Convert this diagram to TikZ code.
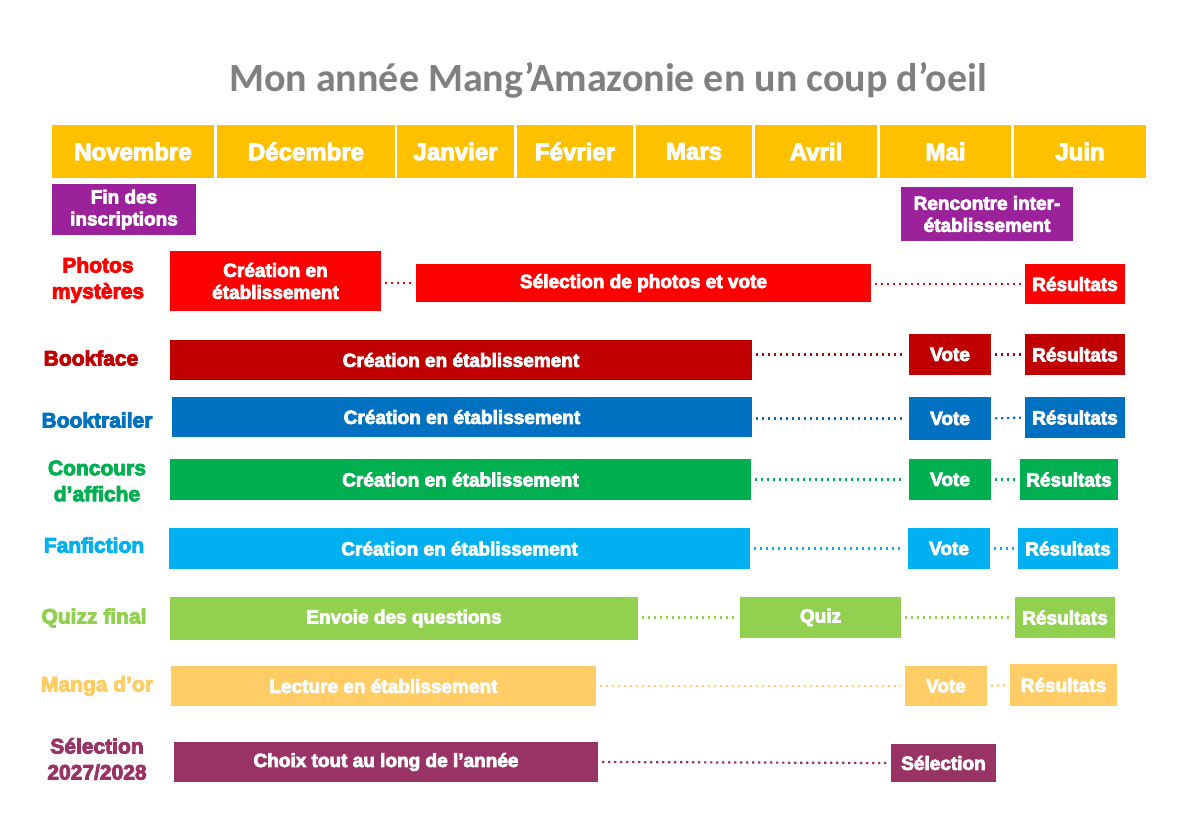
\documentclass[tikz,border=0pt]{standalone}
\usepackage{fontspec}
\setmainfont{Liberation Sans}[BoldFeatures={FakeBold=4}]
\newfontfamily\titlefont{Carlito}
\usepackage{tikz}
\definecolor{month}{HTML}{FFC000}
\definecolor{event}{RGB}{155,34,155}
\definecolor{photo}{HTML}{FF0000}
\definecolor{bookface}{HTML}{C00000}
\definecolor{trailer}{HTML}{0070C0}
\definecolor{affiche}{HTML}{00B050}
\definecolor{fanfic}{HTML}{00B0F0}
\definecolor{quizz}{HTML}{92D050}
\definecolor{mangaor}{HTML}{FFCC66}
\definecolor{selec}{HTML}{993366}

\begin{document}
\begin{tikzpicture}[x=1pt, y=-1pt,
    every node/.style={inner sep=0pt, align=center},
    head/.style={fill=month, text=white, font=\fontsize{24}{28}\selectfont\bfseries, minimum height=53pt},
    box/.style={fill=#1, text=white, font=\fontsize{19}{22}\selectfont\bfseries},
    lab/.style={text=#1, font=\fontsize{21}{26}\selectfont\bfseries},
    link/.style={draw=#1, line width=2.2pt, dash pattern=on 2.2pt off 3.8pt, shorten <=4pt, shorten >=4pt}]
    \useasboundingbox (0,0) rectangle (1192,837);
    \node (title) at (608,80) [text=black!50, font=\titlefont\fontsize{40}{46}\selectfont\bfseries] {Mon année Mang’Amazonie en un coup d’oeil};
    \node (nov) at (133,151.5) [head, minimum width=162pt] {Novembre};
    \node (dec) at (306,151.5) [head, minimum width=178pt] {Décembre};
    \node (jan) at (455.5,151.5) [head, minimum width=117pt] {Janvier};
    \node (feb) at (575,151.5) [head, minimum width=116pt] {Février};
    \node (mar) at (694,151.5) [head, minimum width=116pt] {Mars};
    \node (apr) at (816,151.5) [head, minimum width=122pt] {Avril};
    \node (may) at (945.5,151.5) [head, minimum width=131pt] {Mai};
    \node (jun) at (1080,151.5) [head, minimum width=132pt] {Juin};
    \node (fin) at (124,209.5) [box=event, minimum width=144pt, minimum height=51pt] {Fin des\\inscriptions};
    \node (meet) at (987,214) [box=event, minimum width=172pt, minimum height=54pt] {Rencontre inter-\\établissement};
    \node (pmlab) at (98,280) [lab=photo] {Photos\\mystères};
    \node (pm1) at (275.5,281) [box=photo, minimum width=211pt, minimum height=60pt] {Création en\\établissement};
    \node (pm2) at (643.5,283) [box=photo, minimum width=455pt, minimum height=38pt] {Sélection de photos et vote};
    \node (pm3) at (1075,284) [box=photo, minimum width=100pt, minimum height=40pt] {Résultats};
    \node (bflab) at (91,358) [lab=bookface] {Bookface};
    \node (bf1) at (461,360) [box=bookface, minimum width=582pt, minimum height=40pt] {Création en établissement};
    \node (bf2) at (950,354.5) [box=bookface, minimum width=82pt, minimum height=41pt] {Vote};
    \node (bf3) at (1075,354.5) [box=bookface, minimum width=100pt, minimum height=41pt] {Résultats};
    \node (btlab) at (97,420) [lab=trailer] {Booktrailer};
    \node (bt1) at (462,417) [box=trailer, minimum width=580pt, minimum height=40pt] {Création en établissement};
    \node (bt2) at (950,418.5) [box=trailer, minimum width=82pt, minimum height=43pt] {Vote};
    \node (bt3) at (1075,417.5) [box=trailer, minimum width=100pt, minimum height=41pt] {Résultats};
    \node (calab) at (97,481) [lab=affiche] {Concours\\d’affiche};
    \node (ca1) at (460.5,479.5) [box=affiche, minimum width=581pt, minimum height=41pt] {Création en établissement};
    \node (ca2) at (950,479.5) [box=affiche, minimum width=82pt, minimum height=41pt] {Vote};
    \node (ca3) at (1069,479.5) [box=affiche, minimum width=98pt, minimum height=41pt] {Résultats};
    \node (fflab) at (94,545) [lab=fanfic] {Fanfiction};
    \node (ff1) at (459.5,548.5) [box=fanfic, minimum width=581pt, minimum height=41pt] {Création en établissement};
    \node (ff2) at (949,548.5) [box=fanfic, minimum width=82pt, minimum height=41pt] {Vote};
    \node (ff3) at (1068,548.5) [box=fanfic, minimum width=100pt, minimum height=41pt] {Résultats};
    \node (qflab) at (94,618) [lab=quizz] {Quizz final};
    \node (qf1) at (404,618.5) [box=quizz, minimum width=468pt, minimum height=43pt] {Envoie des questions};
    \node (qf2) at (820.5,617.5) [box=quizz, minimum width=161pt, minimum height=41pt] {Quiz};
    \node (qf3) at (1065,617.5) [box=quizz, minimum width=100pt, minimum height=41pt] {Résultats};
    \node (molab) at (97,686) [lab=mangaor] {Manga d’or};
    \node (mo1) at (383.5,686) [box=mangaor, minimum width=425pt, minimum height=40pt] {Lecture en établissement};
    \node (mo2) at (946,686) [box=mangaor, minimum width=82pt, minimum height=40pt] {Vote};
    \node (mo3) at (1063.5,685) [box=mangaor, minimum width=107pt, minimum height=42pt] {Résultats};
    \node (selab) at (97,759) [lab=selec] {Sélection\\2027/2028};
    \node (se1) at (386,762) [box=selec, minimum width=424pt, minimum height=40pt] {Choix tout au long de l’année};
    \node (se2) at (943.5,763) [box=selec, minimum width=105pt, minimum height=38pt] {Sélection};
    \path
    (pm2.west -| pm1.east) edge[link=photo] (pm2.west)
    (pm3.west -| pm2.east) edge[link=photo] (pm3.west)
    (bf2.west -| bf1.east) edge[link=bookface] (bf2.west)
    (bf2.east) edge[link=bookface] (bf3.west)
    (bt2.west -| bt1.east) edge[link=trailer] (bt2.west)
    (bt2.east) edge[link=trailer] (bt3.west)
    (ca1.east) edge[link=affiche] (ca2.west)
    (ca2.east) edge[link=affiche] (ca3.west)
    (ff1.east) edge[link=fanfic] (ff2.west)
    (ff2.east) edge[link=fanfic] (ff3.west)
    (qf2.west -| qf1.east) edge[link=quizz] (qf2.west)
    (qf2.east) edge[link=quizz] (qf3.west)
    (mo1.east) edge[link=mangaor] (mo2.west)
    (mo2.east) edge[link=mangaor] (mo3.west)
    (se1.east) edge[link=selec] (se2.west)
    ;
\end{tikzpicture}
\end{document}
